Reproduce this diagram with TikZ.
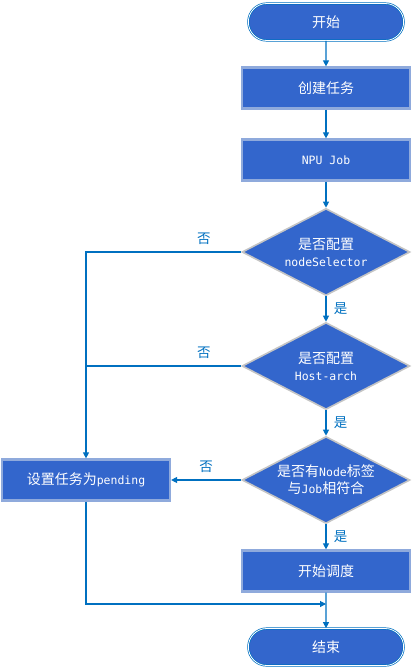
\documentclass[tikz,border=0pt]{standalone}
\usepackage{fontspec}
\setmainfont{Noto Sans CJK SC}
\newfontfamily\codefont[Scale=0.82]{DejaVu Sans Mono}
\usetikzlibrary{shapes.geometric, shapes.misc, arrows.meta}

\definecolor{fillblue}{RGB}{51,102,204}
\definecolor{lineblue}{RGB}{0,112,192}
\definecolor{rimblue}{RGB}{143,170,220}
\definecolor{rimgray}{RGB}{196,196,196}
\newcommand{\code}[1]{{\codefont #1}}

\begin{document}
\begin{tikzpicture}[
	x=1pt, y=-1pt,
	every node/.style={font=\fontsize{14}{17}\selectfont},
	terminal/.style={rounded rectangle, fill=fillblue, draw=lineblue, double=white, double distance=0.8pt, line width=0.7pt, minimum width=162, minimum height=37, text=white},
	process/.style={rectangle, fill=fillblue, draw=rimblue, line width=2.2pt, minimum width=168, minimum height=41, text=white},
	decision/.style={diamond, aspect=2, fill=fillblue, draw=rimgray, line width=1.6pt, minimum width=168, minimum height=87, inner sep=0pt, align=center, text=white},
	flow/.style={draw=lineblue, line width=1.1pt, -{Triangle[length=6pt, width=6pt]}},
	plain/.style={draw=lineblue, line width=1.1pt},
	yes/.style={right=4pt, text=lineblue, font=\fontsize{13.5}{15}\selectfont},
	no/.style={above=4pt, text=lineblue, font=\fontsize{13.5}{15}\selectfont},
]
	\useasboundingbox (0,0) rectangle (417,670);

	% Main column of steps
	\node[terminal] (start) at (326,22) {开始};
	\node[process] (create) at (326,88) {创建任务};
	\node[process] (job) at (326,160) {\code{NPU Job}};
	\node[decision] (selector) at (326,252) {是否配置\\\code{nodeSelector}};
	\node[decision] (arch) at (326,366) {是否配置\\\code{Host-arch}};
	\node[decision] (match) at (326,480) {是否有\code{Node}标签\\与\code{Job}相符合};
	\node[process] (schedule) at (326,571) {开始调度};
	\node[terminal] (finish) at (326,647) {结束};

	% Side branch for the failed checks
	\node[process] (pending) at (86,480) {设置任务为\code{pending}};
	\coordinate (merge) at (326,604);

	% Yes path
	\draw[flow] (start) -- (create);
	\draw[flow] (create) -- (job);
	\draw[flow] (job) -- (selector);
	\draw[flow] (selector) -- node[yes] {是} (arch);
	\draw[flow] (arch) -- node[yes] {是} (match);
	\draw[flow] (match) -- node[yes] {是} (schedule);
	\draw[flow] (schedule) -- (finish);

	% No path
	\draw[flow] (selector.west) -| node[no, pos=0.12] {否} (pending);
	\draw[plain] (arch.west) -- node[no, pos=0.24] {否} (arch.west -| pending.north);
	\draw[flow] (match) -- node[no] {否} (pending);
	\draw[flow] (pending) |- (merge);
\end{tikzpicture}
\end{document}
